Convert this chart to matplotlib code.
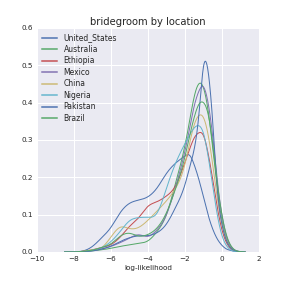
import numpy as np
import matplotlib
matplotlib.use("Agg")
import matplotlib.pyplot as plt

x_grid = [-8.5, -8, -7.5, -7, -6.5, -6, -5.5, -5, -4.5, -4, -3.5, -3, -2.5, -2,
          -1.75, -1.5, -1.25, -1, -0.75, -0.5, -0.25, 0, 0.25, 0.5, 0.75, 1, 1.25]

locations = ["United_States", "Australia", "Ethiopia", "Mexico", "China",
             "Nigeria", "Pakistan", "Brazil"]

united_states = [0, 0.0005, 0.003, 0.015, 0.038, 0.066, 0.105, 0.130, 0.139, 0.148,
                 0.172, 0.210, 0.238, 0.257, 0.259, 0.234, 0.195, 0.148, 0.100,
                 0.062, 0.035, 0.018, 0.008, 0.004, 0.001, 0.0, 0.0]
australia = [0, 0, 0.001, 0.003, 0.006, 0.010, 0.015, 0.019, 0.023, 0.030, 0.055,
             0.100, 0.185, 0.285, 0.350, 0.415, 0.450, 0.440, 0.380, 0.280, 0.170,
             0.085, 0.035, 0.012, 0.003, 0.0005, 0]
ethiopia = [0, 0, 0.002, 0.006, 0.012, 0.020, 0.040, 0.068, 0.092, 0.122, 0.135,
            0.150, 0.178, 0.240, 0.275, 0.305, 0.319, 0.312, 0.265, 0.195, 0.120,
            0.060, 0.025, 0.008, 0.002, 0.0, 0]
mexico = [0, 0, 0.001, 0.004, 0.008, 0.015, 0.025, 0.037, 0.046, 0.042, 0.060,
          0.100, 0.175, 0.270, 0.330, 0.390, 0.430, 0.442, 0.400, 0.310, 0.190,
          0.100, 0.042, 0.014, 0.004, 0.001, 0]
china = [0, 0, 0.002, 0.006, 0.012, 0.040, 0.066, 0.063, 0.066, 0.085, 0.110,
         0.137, 0.171, 0.235, 0.290, 0.340, 0.365, 0.360, 0.315, 0.235, 0.145,
         0.075, 0.032, 0.010, 0.003, 0.0, 0]
nigeria = [0, 0, 0.001, 0.005, 0.012, 0.028, 0.055, 0.083, 0.092, 0.093, 0.105,
           0.170, 0.238, 0.290, 0.313, 0.332, 0.338, 0.318, 0.258, 0.178, 0.100,
           0.045, 0.017, 0.005, 0.001, 0, 0]
pakistan = [0, 0, 0.001, 0.003, 0.008, 0.016, 0.028, 0.038, 0.043, 0.044, 0.052,
            0.075, 0.120, 0.180, 0.225, 0.275, 0.365, 0.495, 0.485, 0.350, 0.170,
            0.075, 0.030, 0.010, 0.003, 0.001, 0]
brazil = [0, 0, 0.002, 0.005, 0.012, 0.022, 0.042, 0.050, 0.043, 0.047, 0.065,
          0.105, 0.170, 0.255, 0.310, 0.360, 0.395, 0.400, 0.370, 0.290, 0.185,
          0.100, 0.045, 0.016, 0.004, 0.001, 0]

series = [united_states, australia, ethiopia, mexico, china, nigeria, pakistan, brazil]
palette = ["#4C72B0", "#55A868", "#C44E52", "#8172B2", "#CCB974", "#64B5CD"]

title = "bridegroom by location"
xlabel = "log-likelihood"


def natural_spline(x, y, xs):
    x = np.asarray(x, float)
    y = np.asarray(y, float)
    n = len(x)
    h = np.diff(x)
    A = np.zeros((n, n))
    b = np.zeros(n)
    A[0, 0] = 1
    A[-1, -1] = 1
    for i in range(1, n - 1):
        A[i, i - 1] = h[i - 1]
        A[i, i] = 2 * (h[i - 1] + h[i])
        A[i, i + 1] = h[i]
        b[i] = 6 * ((y[i + 1] - y[i]) / h[i] - (y[i] - y[i - 1]) / h[i - 1])
    M = np.linalg.solve(A, b)
    idx = np.clip(np.searchsorted(x, xs) - 1, 0, n - 2)
    x0, x1 = x[idx], x[idx + 1]
    hh = x1 - x0
    t0 = x1 - xs
    t1 = xs - x0
    ys = (M[idx] * t0 ** 3 / (6 * hh) + M[idx + 1] * t1 ** 3 / (6 * hh)
          + (y[idx] / hh - M[idx] * hh / 6) * t0
          + (y[idx + 1] / hh - M[idx + 1] * hh / 6) * t1)
    return np.maximum(ys, 0)


fig = plt.figure(figsize=(4, 4), dpi=72)
ax = fig.add_axes([0.128, 0.125, 0.771, 0.778])
ax.set_facecolor("#EAEAF2")
for s in ax.spines.values():
    s.set_visible(False)
ax.grid(True, color="white", linewidth=1)
ax.set_axisbelow(True)

xs = np.linspace(x_grid[0], x_grid[-1], 600)
for i, (name, ys) in enumerate(zip(locations, series)):
    ax.plot(xs, natural_spline(x_grid, ys, xs), color=palette[i % len(palette)],
            linewidth=1.0, label=name)

ax.set_xlim(-10, 2)
ax.set_ylim(0, 0.6)
ax.set_xticks(np.arange(-10, 3, 2))
ax.set_yticks(np.arange(0, 0.61, 0.1))
ax.tick_params(axis="both", length=0, labelsize=7.3, colors="#262626", pad=4)
ax.set_xlabel(xlabel, fontsize=7.3, color="#262626", labelpad=3)
ax.set_title(title, fontsize=10, color="#262626", pad=3)
leg = ax.legend(loc="upper left", frameon=False, fontsize=7.6, handlelength=2,
                handletextpad=0.8, borderaxespad=0.3, borderpad=0.4,
                labelspacing=0.33)
for t in leg.get_texts():
    t.set_color("#262626")
for ln in leg.get_lines():
    ln.set_linewidth(1.5)

fig.savefig("out.png", dpi=72)
